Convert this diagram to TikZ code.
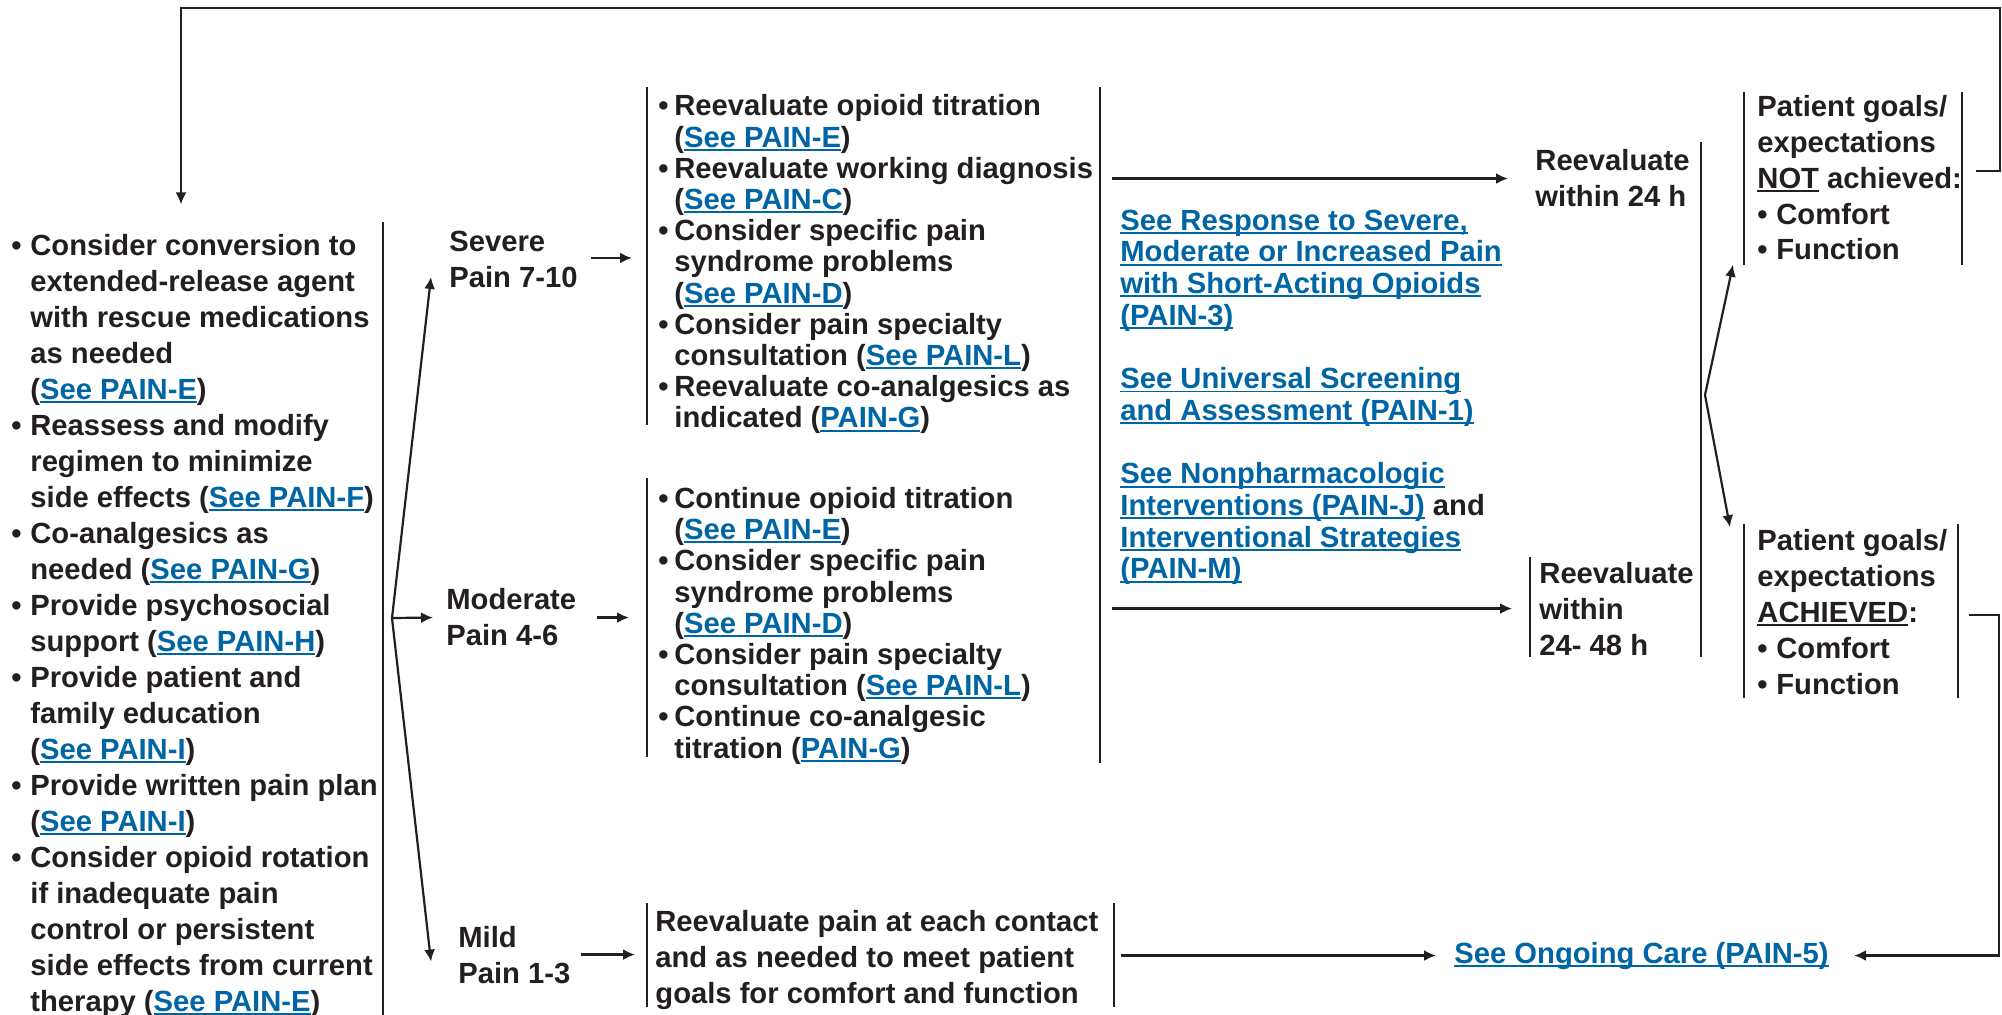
\documentclass[tikz,border=0pt]{standalone}
\usepackage{fontspec}
\setmainfont{Liberation Sans}
\usetikzlibrary{arrows.meta,calc}
\definecolor{ink}{RGB}{35,31,32}
\definecolor{linkblue}{RGB}{0,101,164}
\newcommand\undl[1]{\setbox0\hbox{#1}\rlap{\rule[-1.8pt]{\wd0}{0.9pt}}\box0\relax}
\newcommand\lnk[1]{\textcolor{linkblue}{\undl{#1}}}
\newcommand\bul{\makebox[9.5pt][l]{\textbullet}}
\newcommand\ind{\hspace*{9.5pt}}
\newcommand\bulm{\makebox[8pt][l]{\textbullet}}
\newcommand\indm{\hspace*{8pt}}
\tikzset{
  txt/.style={anchor=base west, inner sep=0pt, align=left, text=ink,
    font=\fontsize{14.6pt}{18pt}\selectfont\bfseries},
  tight/.style={font=\fontsize{14.6pt}{15.6pt}\selectfont\bfseries},
  reflist/.style={font=\fontsize{14.6pt}{15.85pt}\selectfont\bfseries},
  goals/.style={font=\fontsize{14.6pt}{17.9pt}\selectfont\bfseries},
  arr/.style={-{Latex[length=6pt,width=5.5pt]}, line width=1.1pt, draw=ink},
  sidebar/.style={line width=1.1pt, draw=ink}
}
\begin{document}
\begin{tikzpicture}[x=0.5pt,y=-0.5pt]
\useasboundingbox (0,0) rectangle (2002,1015);

% nodes are placed at the baseline of their last line
\node[txt] (act) at (11,1011) {\bul Consider conversion to\\
\ind extended-release agent\\
\ind with rescue medications\\
\ind as needed\\
\ind (\lnk{See PAIN-E})\\
\bul Reassess and modify\\
\ind regimen to minimize\\
\ind side effects (\lnk{See PAIN-F})\\
\bul Co-analgesics as\\
\ind needed (\lnk{See PAIN-G})\\
\bul Provide psychosocial\\
\ind support (\lnk{See PAIN-H})\\
\bul Provide patient and\\
\ind family education\\
\ind (\lnk{See PAIN-I})\\
\bul Provide written pain plan\\
\ind (\lnk{See PAIN-I})\\
\bul Consider opioid rotation\\
\ind if inadequate pain\\
\ind control or persistent\\
\ind side effects from current\\
\ind therapy (\lnk{See PAIN-E})};

\node[txt] (sev) at (449,288) {Severe\\Pain 7-10};
\node[txt] (mod) at (446,646) {Moderate\\Pain 4-6};
\node[txt] (mild) at (458,983) {Mild\\Pain 1-3};

\node[txt,tight] (sevbox) at (658,428) {\bulm Reevaluate opioid titration\\
\indm (\lnk{See PAIN-E})\\
\bulm Reevaluate working diagnosis\\
\indm (\lnk{See PAIN-C})\\
\bulm Consider specific pain\\
\indm syndrome problems\\
\indm (\lnk{See PAIN-D})\\
\bulm Consider pain specialty\\
\indm consultation (\lnk{See PAIN-L})\\
\bulm Reevaluate co-analgesics as\\
\indm indicated (\lnk{PAIN-G})};

\node[txt,tight] (modbox) at (658,758) {\bulm Continue opioid titration\\
\indm (\lnk{See PAIN-E})\\
\bulm Consider specific pain\\
\indm syndrome problems\\
\indm (\lnk{See PAIN-D})\\
\bulm Consider pain specialty\\
\indm consultation (\lnk{See PAIN-L})\\
\bulm Continue co-analgesic\\
\indm titration (\lnk{PAIN-G})};

\node[txt] (mildbox) at (655,1003) {Reevaluate pain at each contact\\
and as needed to meet patient\\
goals for comfort and function};

\node[txt,reflist] (refs) at (1120,579) {\lnk{See Response to Severe,}\\
\lnk{Moderate or Increased Pain}\\
\lnk{with Short-Acting Opioids}\\
\lnk{(PAIN-3)}\\[15.85pt]
\lnk{See Universal Screening}\\
\lnk{and Assessment (PAIN-1)}\\[15.85pt]
\lnk{See Nonpharmacologic}\\
\lnk{Interventions (PAIN-J)} and\\
\lnk{Interventional Strategies}\\
\lnk{(PAIN-M)}};

\node[txt] (r24) at (1535,207) {Reevaluate\\within 24 h};
\node[txt] (r48) at (1539,655) {Reevaluate\\within\\24- 48 h};

\node[txt,goals] (notach) at (1757,260) {Patient goals/\\expectations\\\undl{NOT} achieved:\\\bul Comfort\\\bul Function};
\node[txt,goals] (ach) at (1757,694) {Patient goals/\\expectations\\\undl{ACHIEVED}:\\\bul Comfort\\\bul Function};

\node[txt] (ong) at (1454,963) {\lnk{See Ongoing Care (PAIN-5)}};

% side bars
\draw[sidebar] (383,222) -- (383,1015);
\draw[sidebar] (647,87) -- (647,425);
\draw[sidebar] (647,478) -- (647,757);
\draw[sidebar] (647,903) -- (647,1007);
\draw[sidebar] (1114,903) -- (1114,1007);
\draw[sidebar] (1100,87) -- (1100,763);
\draw[sidebar] (1530,557) -- (1530,657);
\draw[sidebar] (1701,142) -- (1701,657);
\draw[sidebar] (1744,92) -- (1744,265);
\draw[sidebar] (1962,92) -- (1962,265);
\draw[sidebar] (1744,524) -- (1744,698);
\draw[sidebar] (1958,524) -- (1958,698);

\coordinate (fanL) at (392,618);
\coordinate (fanR) at (1705,395);
\coordinate (midR) at (1112,0);
\coordinate (topR) at (2000,8);
\coordinate (topL) at (181,8);
\coordinate (rightX) at (1999,0);

\draw[arr] (fanL) -- ($(sev.west)+(-18,17)$);
\draw[arr] (fanL) -- ($(mod.west)+(-13,0)$);
\draw[arr] (fanL) -- ($(mild.west)+(-27,7)$);

\draw[arr] ($(sev.east)+(13,-2)$) -- ($(sev.east -| sevbox.west)+(-26,-2)$);
\draw[arr] ($(mod.east)+(20,0)$) -- ($(mod.east -| modbox.west)+(-29,0)$);
\draw[arr] ($(mild.east)+(10,0)$) -- ($(mild.east -| mildbox.west)+(-20,0)$);

\draw[arr] (r24.west -| midR) -- ($(r24.west)+(-27,0)$);
\draw[arr] (r48.west -| midR) -- ($(r48.west)+(-27,0)$);

\draw[arr] (fanR) -- ($(notach.south west)+(-24,4)$);
\draw[arr] (fanR) -- ($(ach.north west)+(-27,-2)$);

\draw[arr] ($(mildbox.east |- ong.west)+(22,0)$) -- ($(ong.west)+(-18,0)$);
\draw[arr] ($(ach.east)+(21,3)$) -| (ong.east -| rightX) -- ($(ong.east)+(25,0)$);
\draw[arr] ($(notach.east)+(14,-7)$) -| (topR) -| ($(act.north -| topL)+(0,-29)$);
\end{tikzpicture}
\end{document}
